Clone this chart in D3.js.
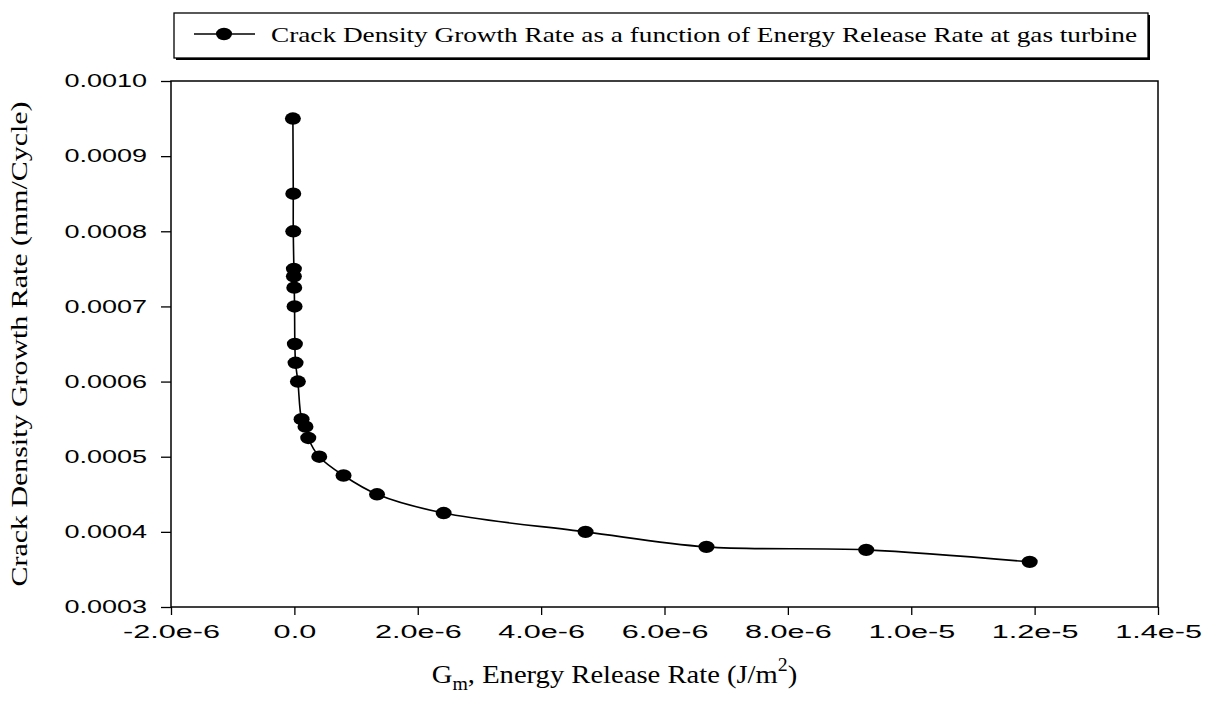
<!DOCTYPE html>
<html>
<head>
<meta charset="utf-8">
<script src="https://cdn.jsdelivr.net/npm/d3@7"></script>
<style>
  body { margin: 0; background: #fff; }
  svg { display: block; }
</style>
</head>
<body>
<svg id="chart" width="1207" height="715"></svg>
<script>
// energy release rate G_m (J/m^2) and crack density growth rate (mm/cycle)
const gmValues = [
  -0.024e-6, -0.018e-6, -0.018e-6, -0.008e-6, -0.008e-6, -0.002e-6, 0.003e-6,
  0.008e-6, 0.019e-6, 0.057e-6, 0.117e-6, 0.18e-6, 0.225e-6, 0.403e-6,
  0.797e-6, 1.34e-6, 2.42e-6, 4.72e-6, 6.68e-6, 9.27e-6, 11.92e-6
]
const rateValues = [
  0.00095, 0.00085, 0.0008, 0.00075, 0.00074, 0.000725, 0.0007,
  0.00065, 0.000625, 0.0006, 0.00055, 0.00054, 0.000525, 0.0005,
  0.000475, 0.00045, 0.000425, 0.0004, 0.00038, 0.000376, 0.00036
]
const xTicks = [-2e-6, 0, 2e-6, 4e-6, 6e-6, 8e-6, 1e-5, 1.2e-5, 1.4e-5]
const xTickLabels = ['-2.0e-6', '0.0', '2.0e-6', '4.0e-6', '6.0e-6', '8.0e-6', '1.0e-5', '1.2e-5', '1.4e-5']
const yTicks = [0.0003, 0.0004, 0.0005, 0.0006, 0.0007, 0.0008, 0.0009, 0.0010]
const legendText = 'Crack Density Growth Rate as a function of Energy Release Rate at gas turbine'

const svg = d3.select('#chart')
const box = { left: 171, right: 1158, top: 81, bottom: 607 }

const x = d3.scaleLinear().domain([-2e-6, 1.4e-5]).range([box.left, box.right])
const y = d3.scaleLinear().domain([0.0003, 0.0010]).range([box.bottom, box.top])

// stretch text to the width seen in the picture
function stretch(sel, k) {
  sel.each(function () {
    const w = this.getComputedTextLength()
    d3.select(this).attr('textLength', w * k).attr('lengthAdjust', 'spacingAndGlyphs')
  })
}

// x axis
const gx = svg.append('g')
  .attr('transform', 'translate(0,' + box.bottom + ')')
  .call(d3.axisBottom(x).tickValues(xTicks).tickSize(8).tickPadding(10)
    .tickFormat((d, i) => xTickLabels[i]))
gx.select('.domain').remove()
gx.selectAll('line').attr('stroke', '#000').attr('stroke-width', 1.3)
gx.selectAll('text')
  .attr('font-family', 'Liberation Sans, Arial, sans-serif')
  .attr('font-size', 18)
  .attr('fill', '#000')
  .call(stretch, 1.7)

// y axis
const gy = svg.append('g')
  .attr('transform', 'translate(' + box.left + ',0)')
  .call(d3.axisLeft(y).tickValues(yTicks).tickSize(10).tickPadding(14)
    .tickFormat(d3.format('.4f')))
gy.select('.domain').remove()
gy.selectAll('line').attr('stroke', '#000').attr('stroke-width', 1.3)
gy.selectAll('text')
  .attr('font-family', 'Liberation Sans, Arial, sans-serif')
  .attr('font-size', 18)
  .attr('fill', '#000')
  .call(stretch, 1.5)

// frame
svg.append('rect')
  .attr('x', box.left).attr('y', box.top)
  .attr('width', box.right - box.left).attr('height', box.bottom - box.top)
  .attr('fill', 'none').attr('stroke', '#000').attr('stroke-width', 1.5)

// curve
const pts = gmValues.map((g, i) => [g, rateValues[i]])
svg.append('path')
  .datum(pts)
  .attr('fill', 'none')
  .attr('stroke', '#000')
  .attr('stroke-width', 1.6)
  .attr('d', d3.line().x(d => x(d[0])).y(d => y(d[1])).curve(d3.curveCatmullRom.alpha(0.5)))

svg.append('g')
  .selectAll('ellipse')
  .data(pts)
  .enter()
  .append('ellipse')
  .attr('cx', d => x(d[0]))
  .attr('cy', d => y(d[1]))
  .attr('rx', 8)
  .attr('ry', 6.2)
  .attr('fill', '#000')

// axis titles
svg.append('text')
  .attr('transform', 'translate(27,' + ((box.top + box.bottom) / 2) + ') rotate(-90)')
  .attr('text-anchor', 'middle')
  .attr('font-family', 'Liberation Serif, Times New Roman, serif')
  .attr('font-size', 23)
  .text('Crack Density Growth Rate (mm/Cycle)')
  .call(stretch, 1.3)

const xt = svg.append('g')
  .attr('transform', 'translate(' + ((box.left + box.right) / 2 - 50) + ',683) scale(1.1,1)')
  .append('text')
  .attr('text-anchor', 'middle')
  .attr('font-family', 'Liberation Serif, Times New Roman, serif')
  .attr('font-size', 26)
xt.append('tspan').text('G')
xt.append('tspan').attr('font-size', 18).attr('dy', 7).text('m')
xt.append('tspan').attr('dy', -7).text(', Energy Release Rate (J/m')
xt.append('tspan').attr('font-size', 18).attr('dy', -12).text('2')
xt.append('tspan').attr('dy', 12).text(')')

// legend
const lg = svg.append('g')
lg.append('rect')
  .attr('x', 176).attr('y', 15).attr('width', 974).attr('height', 45)
  .attr('fill', '#000')
lg.append('rect')
  .attr('x', 174).attr('y', 13).attr('width', 974).attr('height', 45)
  .attr('fill', '#fff').attr('stroke', '#000').attr('stroke-width', 1.3)
lg.append('line')
  .attr('x1', 194).attr('x2', 255).attr('y1', 34).attr('y2', 34)
  .attr('stroke', '#000').attr('stroke-width', 1.6)
lg.append('ellipse')
  .attr('cx', 224).attr('cy', 34).attr('rx', 8).attr('ry', 6.2)
  .attr('fill', '#000')
lg.append('text')
  .attr('x', 271).attr('y', 42)
  .attr('font-family', 'Liberation Serif, Times New Roman, serif')
  .attr('font-size', 21)
  .attr('textLength', 866)
  .attr('lengthAdjust', 'spacingAndGlyphs')
  .text(legendText)
</script>
</body>
</html>
